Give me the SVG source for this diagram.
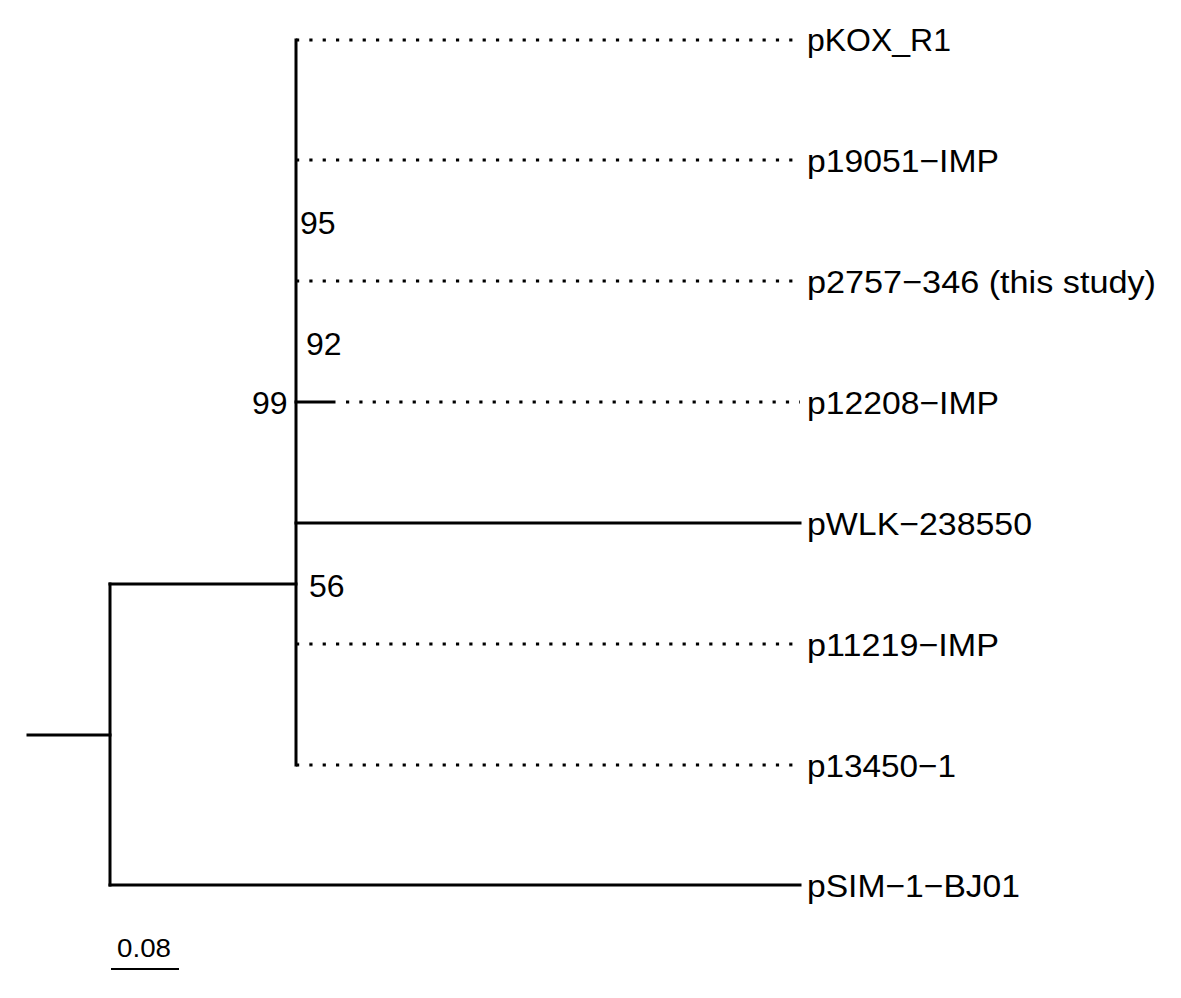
<svg xmlns="http://www.w3.org/2000/svg" width="1181" height="998" viewBox="0 0 1181 998">
<style>
.br{stroke:#000;stroke-width:3;fill:none;stroke-linecap:square}
.dot{stroke:#000;stroke-width:3.2;fill:none;stroke-dasharray:3.2 10.13}
.lab{font-family:"Liberation Sans",Arial,sans-serif;font-size:32px;fill:#000}
.bs{font-family:"Liberation Sans",Arial,sans-serif;font-size:32px;fill:#000}
.sc{font-family:"Liberation Sans",Arial,sans-serif;font-size:25px;fill:#000}
</style>
<rect width="1181" height="998" fill="#fff"/>
<g id="connectors">
<line class="br" x1="28" y1="735" x2="110" y2="735"/>
<line class="br" x1="110" y1="584" x2="110" y2="885"/>
<line class="br" x1="110" y1="584" x2="296" y2="584"/>
<line class="br" x1="110" y1="885" x2="800" y2="885"/>
<line class="br" x1="296" y1="40" x2="296" y2="765"/>
<line class="br" x1="296" y1="523" x2="800" y2="523"/>
<line class="br" x1="296" y1="402" x2="334" y2="402"/>
<line class="dot" x1="296" y1="40" x2="800" y2="40"/>
<line class="dot" x1="296" y1="160" x2="800" y2="160"/>
<line class="dot" x1="296" y1="281" x2="800" y2="281"/>
<line class="dot" x1="346" y1="402" x2="800" y2="402"/>
<line class="dot" x1="296" y1="644" x2="800" y2="644"/>
<line class="dot" x1="296" y1="765" x2="800" y2="765"/>
</g>
<g id="leaf-pKOX_R1"><text class="lab" x="807" y="51" textLength="144" lengthAdjust="spacingAndGlyphs">pKOX_R1</text></g>
<g id="leaf-p19051-IMP"><text class="lab" x="807" y="172" textLength="192" lengthAdjust="spacingAndGlyphs">p19051−IMP</text></g>
<g id="leaf-p2757-346"><text class="lab" x="807" y="293" textLength="349" lengthAdjust="spacingAndGlyphs">p2757−346 (this study)</text></g>
<g id="leaf-p12208-IMP"><text class="lab" x="807" y="414" textLength="192" lengthAdjust="spacingAndGlyphs">p12208−IMP</text></g>
<g id="leaf-pWLK-238550"><text class="lab" x="807" y="535" textLength="225" lengthAdjust="spacingAndGlyphs">pWLK−238550</text></g>
<g id="leaf-p11219-IMP"><text class="lab" x="807" y="656" textLength="192" lengthAdjust="spacingAndGlyphs">p11219−IMP</text></g>
<g id="leaf-p13450-1"><text class="lab" x="807" y="777" textLength="149" lengthAdjust="spacingAndGlyphs">p13450−1</text></g>
<g id="leaf-pSIM-1-BJ01"><text class="lab" x="807" y="897" textLength="213" lengthAdjust="spacingAndGlyphs">pSIM−1−BJ01</text></g>
<g id="bootstrap">
<text class="bs" x="300" y="234">95</text>
<text class="bs" x="306" y="355">92</text>
<text class="bs" x="252" y="414">99</text>
<text class="bs" x="309" y="597">56</text>
</g>
<g id="scale">
<line x1="111" y1="969" x2="179" y2="969" stroke="#000" stroke-width="2"/>
<text class="sc" x="117" y="957" textLength="54" lengthAdjust="spacingAndGlyphs">0.08</text>
</g>
</svg>
